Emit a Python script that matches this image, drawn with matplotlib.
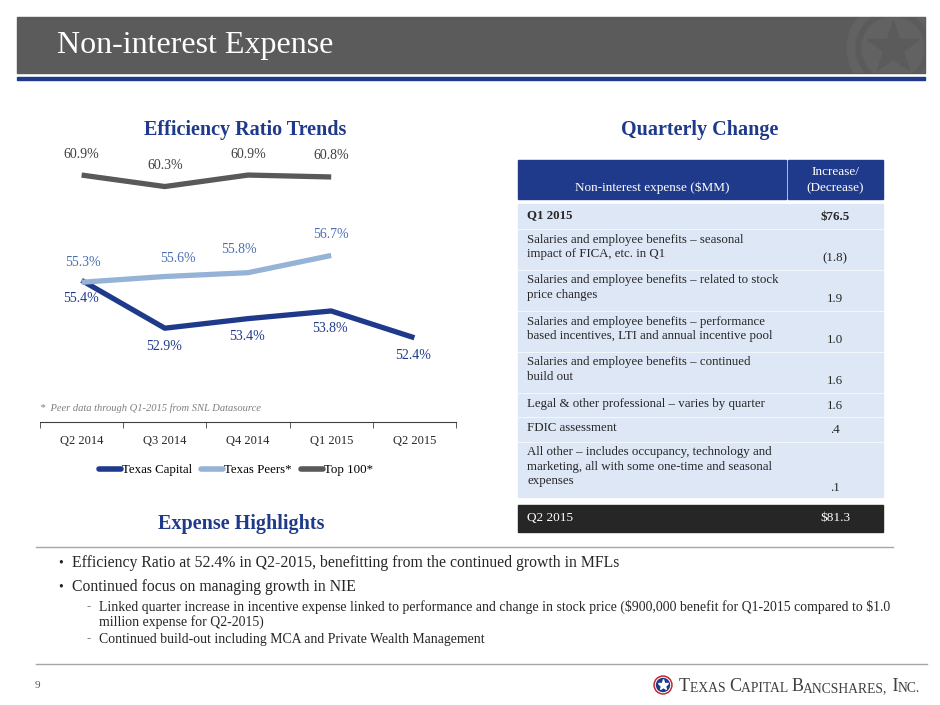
import numpy as np
import matplotlib
matplotlib.use("Agg")
import matplotlib.pyplot as plt
from matplotlib.patches import Rectangle, Circle
from matplotlib.lines import Line2D

plt.rcParams['font.family'] = ['Liberation Serif', 'DejaVu Serif']
plt.rcParams['text.parse_math'] = False

NAVY = "#1f3a8a"
LIGHT = "#95b3d7"
GREY = "#595959"
BAND = "#5b5b5b"
TXT = "#262626"

# ---------------------------------------------------------------------
# data
# ---------------------------------------------------------------------
quarters = ["Q2 2014", "Q3 2014", "Q4 2014", "Q1 2015", "Q2 2015"]
texas_capital = [55.4, 52.9, 53.4, 53.8, 52.4]
texas_peers = [55.3, 55.6, 55.8, 56.7]
top_100 = [60.9, 60.3, 60.9, 60.8]
series_names = ["Texas Capital", "Texas Peers*", "Top 100*"]

table_items = [
    "Q1 2015",
    "Salaries and employee benefits \u2013 seasonal\nimpact of FICA, etc. in Q1",
    "Salaries and employee benefits \u2013 related to stock\nprice changes",
    "Salaries and employee benefits \u2013 performance\nbased incentives, LTI and annual incentive pool",
    "Salaries and employee benefits \u2013 continued\nbuild out",
    "Legal & other professional \u2013 varies by quarter",
    "FDIC assessment",
    "All other \u2013 includes occupancy, technology and\nmarketing, all with some one-time and seasonal\nexpenses",
]
table_values = ["$76.5", "(1.8)", "1.9", "1.0", "1.6", "1.6", ".4", ".1"]
total_label, total_value = "Q2 2015", "$81.3"

bullets = [
    "Efficiency Ratio at 52.4% in Q2-2015, benefitting from the continued growth in MFLs",
    "Continued focus on managing growth in NIE",
]
sub_bullets = [
    ["Linked quarter increase in incentive expense linked to performance and change in stock price ($900,000 benefit for Q1-2015 compared to $1.0",
     "million expense for Q2-2015)"],
    ["Continued build-out including MCA and Private Wealth Management"],
]
logo_parts = [("T", 13), ("EXAS ", 9.8), ("C", 13), ("APITAL ", 9.8),
              ("B", 13), ("ANCSHARES,", 9.8), (" I", 13), ("NC.", 9.8)]

# label offsets in pixels (dx, dy)
tc_off = [(-1, -18)] * 5
peer_off = [(1, 20), (13, 18), (-9, 23), (0, 21)]
top_off = [(0, 21)] * 4

# ---------------------------------------------------------------------
# slide canvas in pixel coordinates
# ---------------------------------------------------------------------
fig = plt.figure(figsize=(9.4, 7.05), dpi=100)
bg = fig.add_axes([0, 0, 1, 1])
bg.set_xlim(0, 940)
bg.set_ylim(705, 0)
bg.axis("off")

band = Rectangle((17, 17), 908, 56, color=BAND, zorder=1)
bg.add_patch(band)
for r, c in [(46, "#626262"), (37, BAND), (31, "#626262")]:
    circ = Circle((893, 48), r, color=c, zorder=2)
    bg.add_patch(circ)
    circ.set_clip_path(band)
star, = bg.plot([893], [48], marker="*", ms=40, color=BAND, zorder=3)
star.set_clip_path(band)
bg.add_patch(Rectangle((17, 77), 908, 3.2, color=NAVY, zorder=1))
bg.text(57, 45, "Non-interest Expense", color="white", fontsize=23,
        va="center", ha="left", zorder=4)

title_kw = dict(color=NAVY, fontsize=14.5, fontweight="bold", ha="center", va="center")
bg.text(245, 130, "Efficiency Ratio Trends", **title_kw)
bg.text(700, 130, "Quarterly Change", **title_kw)
bg.text(241, 524, "Expense Highlights", **title_kw)

bg.text(40, 408, "*  Peer data through Q1-2015 from SNL Datasource", fontsize=7.6,
        style="italic", color="#7f7f7f", va="center")

# ---------------------------------------------------------------------
# table
# ---------------------------------------------------------------------
TL, TR, TDIV = 518, 883, 787
bg.add_patch(Rectangle((TL, 160), TDIV - TL - 1, 39, color=NAVY))
bg.add_patch(Rectangle((TDIV + 1, 160), TR - TDIV - 1, 39, color=NAVY))
bg.text((TL + TDIV) / 2, 188, "Non-interest expense ($MM)", color="white",
        fontsize=9.5, ha="center", va="center")
bg.text(835, 180, "Increase/\n(Decrease)", color="white", fontsize=9.5,
        ha="center", va="center", linespacing=1.45)

LINE_H, PAD = 16.5, 8
y = 204
bg.add_patch(Rectangle((TL, y), TR - TL, 293, color="#dde7f6", zorder=1))
for i, (item, val) in enumerate(zip(table_items, table_values)):
    n = item.count("\n") + 1
    h = n * LINE_H + PAD
    bold = "bold" if i == 0 else "normal"
    bg.text(527, y + PAD / 2 + 1, item, fontsize=9.3, color=TXT, va="top",
            ha="left", linespacing=1.25, fontweight=bold, zorder=3)
    bg.text(835, y + h - PAD / 2 - LINE_H / 2 + 1, val, fontsize=9.3, color=TXT,
            ha="center", va="center", fontweight=bold, zorder=3)
    if i > 0:
        bg.plot([TL, TR], [y, y], color="white", lw=0.6, alpha=0.8, zorder=2)
    y += h

bg.add_patch(Rectangle((TL, 505), TR - TL, 27, color="#262626"))
bg.text(527, 518, total_label, color="white", fontsize=9.5, va="center")
bg.text(835, 518, total_value, color="white", fontsize=9.5, va="center", ha="center")

# ---------------------------------------------------------------------
# highlights
# ---------------------------------------------------------------------
bg.plot([36, 893], [547, 547], color="#a6a6a6", lw=1)
bg.plot([36, 927], [664, 664], color="#a6a6a6", lw=1)
for k, b in enumerate(bullets):
    yy = 563 + 24 * k
    bg.text(58, yy, "\u2022", fontsize=10, color=TXT, va="center")
    bg.text(72, yy, b, fontsize=11.3, color=TXT, va="center")
sy = [607, 639]
for k, lines in enumerate(sub_bullets):
    bg.text(87, sy[k], "-", fontsize=9, color="#7f7f7f", va="center")
    for j, line in enumerate(lines):
        bg.text(99, sy[k] + 15.5 * j, line, fontsize=9.95, color=TXT, va="center")

bg.text(35, 685, "9", fontsize=8, color="#595959", va="center")
bg.add_patch(Circle((663, 685), 9, color="#c0272d", zorder=3))
bg.add_patch(Circle((663, 685), 7.5, color="white", zorder=3))
bg.add_patch(Circle((663, 685), 6.5, color=NAVY, zorder=3))
bg.plot([663], [685], marker="*", ms=8, color="white", zorder=4)
prev = bg.text(679, 691, logo_parts[0][0], fontsize=logo_parts[0][1],
               color="#404040", va="baseline")
for part, size in logo_parts[1:]:
    prev = bg.annotate(part, xy=(1, 0), xycoords=prev, fontsize=size,
                       color="#404040", va="bottom", ha="left")

# ---------------------------------------------------------------------
# line chart
# ---------------------------------------------------------------------
ax = fig.add_axes([40 / 940, 1 - 422 / 705, 416 / 940, 268 / 705])
ax.patch.set_alpha(0)
x = np.arange(len(quarters))
series = [(texas_capital, NAVY, NAVY, tc_off),
          (texas_peers, LIGHT, "#4a6fb3", peer_off),
          (top_100, GREY, "#404040", top_off)]
for (vals, c, lc, offs), name in zip(series, series_names):
    xs = x[:len(vals)]
    ax.plot(xs, vals, color=c, lw=3.8, solid_joinstyle="round",
            solid_capstyle="butt", label=name)
    for xi, v, (dx, dy) in zip(xs, vals, offs):
        ax.annotate(f"{v:.1f}%", (xi, v), xytext=(dx, dy), textcoords="offset pixels",
                    ha="center", va="center", fontsize=10, color=lc)

ax.set_xlim(-0.5, len(quarters) - 0.5)
ax.set_ylim(48, 62)
ax.set_yticks([])
for s in ["top", "right", "left"]:
    ax.spines[s].set_visible(False)
ax.spines["bottom"].set_color("#404040")
ax.set_xticks(x)
ax.set_xticklabels(quarters, fontsize=9, color=TXT)
ax.tick_params(axis="x", which="major", length=0, pad=9)
ax.set_xticks(np.arange(-0.5, len(quarters)), minor=True)
ax.tick_params(axis="x", which="minor", length=4, color="#404040")

handles = [Line2D([], [], color=c, lw=4, solid_capstyle="round")
           for c in [NAVY, LIGHT, GREY]]
ax.legend(handles, series_names, loc="center", bbox_to_anchor=(236 / 940, 1 - 470 / 705),
          bbox_transform=fig.transFigure, ncol=3, frameon=False, fontsize=9.3,
          handlelength=1.7, handletextpad=0.1, columnspacing=0.7)

fig.savefig("out.png", dpi=100)
